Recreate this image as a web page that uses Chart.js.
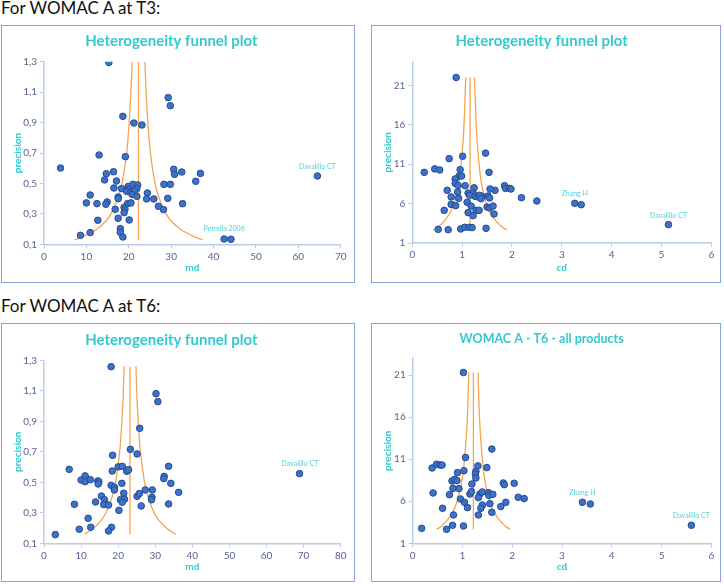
<!DOCTYPE html>
<html>
<head>
<meta charset="utf-8">
<script src="https://cdn.jsdelivr.net/npm/chart.js@4.4.1/dist/chart.umd.min.js"></script>
<style>
  body { margin: 0; background: #fff; width: 724px; height: 584px; position: relative; overflow: hidden; font-family: Lato, sans-serif; }
  .head { position: absolute; left: 1px; font-size: 17px; color: #111; white-space: nowrap; }
  .box { position: absolute; box-sizing: border-box; border: 1px solid #86A5D8; background: #fff; }
  .box canvas { display: block; }
</style>
</head>
<body>
<div class="head" style="top:-3px">For WOMAC A at T3:</div>
<div class="head" style="top:295px">For WOMAC A at T6:</div>
<div class="box" style="left:1px;top:25px;width:354px;height:258px"><canvas id="c1" width="352" height="256"></canvas></div>
<div class="box" style="left:371px;top:25px;width:350px;height:258px"><canvas id="c2" width="348" height="256"></canvas></div>
<div class="box" style="left:1px;top:323px;width:354px;height:259px"><canvas id="c3" width="352" height="257"></canvas></div>
<div class="box" style="left:371px;top:323px;width:350px;height:259px"><canvas id="c4" width="348" height="257"></canvas></div>
<script>
// ---- T3, md ----
var t3mdX = [15.3, 29.3, 29.8, 18.6, 21.2, 23.1, 13.0, 19.2, 3.9, 16.4, 14.7, 14.3, 17.1, 16.5, 18.3, 19.9, 21.0, 22.1, 19.9, 21.9, 19.5, 20.5, 21.3, 20.8, 21.9, 17.5, 17.5, 10.9, 10.0, 12.5, 14.9, 14.6, 19.7, 20.5, 16.8, 18.9, 19.1, 18.9, 17.5, 12.7, 20.1, 18.0, 18.0, 18.6, 8.6, 10.9, 24.4, 24.2, 25.9, 28.3, 29.8, 27.0, 28.2, 29.2, 30.6, 30.8, 32.5, 32.7, 35.8, 36.9, 42.5, 44.1, 64.5];
var t3mdY = [1.295, 1.064, 1.011, 0.941, 0.897, 0.884, 0.687, 0.676, 0.601, 0.577, 0.564, 0.523, 0.516, 0.470, 0.466, 0.481, 0.494, 0.490, 0.461, 0.466, 0.448, 0.442, 0.450, 0.428, 0.415, 0.411, 0.400, 0.424, 0.372, 0.367, 0.378, 0.363, 0.367, 0.372, 0.330, 0.343, 0.330, 0.308, 0.271, 0.258, 0.260, 0.203, 0.179, 0.148, 0.159, 0.177, 0.437, 0.398, 0.398, 0.494, 0.494, 0.350, 0.328, 0.402, 0.593, 0.560, 0.575, 0.367, 0.514, 0.566, 0.135, 0.133, 0.549];
var t3mdFunnelP = [0.13, 0.15, 0.2, 0.25, 0.3, 0.4, 0.5, 0.7, 0.9, 1.1, 1.3];
var t3mdFunnelLow = [7.2, 9.2, 12.5, 14.5, 15.8, 17.4, 18.4, 19.5, 20.1, 20.5, 20.8];
var t3mdFunnelHigh = [37.4, 35.4, 32.1, 30.1, 28.8, 27.2, 26.2, 25.1, 24.5, 24.1, 23.8];
var t3mdCenter = [22.3, 0.125, 1.3];
var t3mdLabels = ["Davalillo CT", "Petrella 2006"];
var t3mdLabelX = [64.5, 42.5];
var t3mdLabelY = [0.61, 0.205];

// ---- T3, cd ----
var t3cdX = [0.88, 1.47, 1.01, 0.74, 0.24, 0.45, 0.55, 0.96, 0.94, 0.99, 1.54, 0.86, 0.86, 0.92, 1.06, 1.24, 0.70, 0.91, 1.12, 1.22, 1.15, 1.26, 1.32, 1.40, 1.35, 1.52, 1.38, 1.55, 1.66, 1.56, 1.85, 1.87, 1.95, 1.98, 0.78, 0.93, 0.78, 0.87, 1.10, 1.18, 1.12, 1.28, 1.34, 1.22, 0.64, 1.50, 1.55, 1.62, 1.64, 2.19, 2.50, 3.26, 3.39, 5.14, 0.52, 0.72, 0.97, 1.05, 1.14, 1.20, 1.48];
var t3cdY = [22.0, 12.4, 12.0, 11.7, 9.96, 10.4, 10.26, 10.3, 9.5, 9.5, 9.96, 9.12, 8.57, 8.3, 8.27, 8.0, 7.68, 7.47, 7.34, 7.34, 7.05, 6.92, 6.84, 6.92, 7.05, 6.96, 6.62, 6.71, 7.68, 7.85, 8.27, 7.93, 7.93, 7.85, 6.84, 6.67, 5.9, 5.74, 6.16, 5.69, 4.85, 5.14, 5.14, 4.47, 5.14, 5.57, 5.44, 5.69, 4.68, 6.75, 6.33, 6.03, 5.86, 3.33, 2.73, 2.69, 2.78, 2.99, 2.99, 2.95, 2.86];
var t3cdFunnelP = [2.65, 3, 4, 5, 6, 8, 10, 14, 18, 22];
var t3cdFunnelLow = [0.42, 0.51, 0.67, 0.77, 0.83, 0.915, 0.964, 1.02, 1.051, 1.071];
var t3cdFunnelHigh = [1.90, 1.81, 1.65, 1.55, 1.49, 1.405, 1.356, 1.30, 1.269, 1.249];
var t3cdCenter = [1.16, 2.65, 22];
var t3cdLabels = ["Zhang H", "Davalillo CT"];
var t3cdLabelX = [3.26, 5.14];
var t3cdLabelY = [7.3, 4.5];

// ---- T6, md ----
var t6mdX = [18.1, 30.2, 30.7, 25.8, 23.3, 25.1, 18.5, 6.8, 18.4, 20.0, 21.1, 22.3, 22.8, 11.1, 10.0, 11.1, 12.5, 14.5, 14.8, 14.6, 21.0, 18.1, 19.0, 18.95, 21.5, 15.5, 16.3, 20.6, 21.7, 21.1, 13.9, 16.1, 17.4, 8.2, 20.2, 11.9, 12.6, 9.5, 18.2, 17.4, 3.05, 25.1, 25.7, 26.2, 27.3, 29.2, 29.1, 29.0, 32.4, 32.3, 33.6, 34.2, 36.3, 33.6, 68.9];
var t6mdY = [1.258, 1.081, 1.029, 0.854, 0.716, 0.686, 0.677, 0.585, 0.574, 0.601, 0.605, 0.572, 0.583, 0.542, 0.515, 0.504, 0.517, 0.509, 0.504, 0.489, 0.493, 0.480, 0.467, 0.450, 0.428, 0.410, 0.386, 0.386, 0.389, 0.369, 0.371, 0.354, 0.351, 0.356, 0.316, 0.264, 0.205, 0.192, 0.205, 0.181, 0.157, 0.408, 0.426, 0.345, 0.450, 0.450, 0.402, 0.386, 0.539, 0.524, 0.605, 0.493, 0.434, 0.358, 0.557];
var t6mdFunnelP = [0.159, 0.2, 0.25, 0.3, 0.4, 0.5, 0.7, 0.9, 1.1, 1.26];
var t6mdFunnelLow = [10.9, 13.4, 15.4, 16.7, 18.3, 19.3, 20.4, 21.0, 21.4, 21.6];
var t6mdFunnelHigh = [35.5, 33.0, 31.0, 29.7, 28.1, 27.1, 26.0, 25.4, 25.0, 24.8];
var t6mdCenter = [23.2, 0.159, 1.26];
var t6mdLabels = ["Davalillo CT"];
var t6mdLabelX = [69.0];
var t6mdLabelY = [0.62];

// ---- T6, cd ----
var t6cdX = [1.02, 1.59, 1.06, 0.39, 0.48, 0.55, 0.59, 1.03, 0.90, 1.27, 1.26, 1.27, 1.31, 1.49, 0.79, 0.84, 0.89, 0.93, 0.81, 1.19, 1.82, 1.84, 2.04, 0.41, 0.74, 1.15, 1.18, 1.35, 1.40, 1.32, 1.52, 1.53, 1.61, 2.12, 2.24, 0.96, 1.04, 1.10, 0.60, 1.40, 1.37, 1.55, 1.87, 1.77, 1.59, 1.32, 0.82, 3.41, 3.57, 5.60, 0.18, 0.68, 0.80, 1.02];
var t6cdY = [21.3, 12.2, 11.2, 9.95, 10.4, 10.3, 10.3, 9.63, 9.4, 9.55, 9.24, 8.76, 10.2, 10.0, 8.4, 8.6, 8.45, 7.5, 7.53, 8.05, 8.17, 7.97, 8.13, 6.98, 6.78, 6.86, 7.14, 6.86, 7.1, 6.43, 7.02, 6.7, 6.82, 6.47, 6.31, 6.27, 5.87, 5.24, 5.16, 5.55, 5.16, 5.71, 5.87, 5.36, 4.68, 4.37, 4.37, 5.87, 5.67, 3.14, 2.78, 2.66, 3.14, 3.06];
var t6cdFunnelP = [2.66, 3, 4, 5, 6, 8, 10, 14, 18, 21.3];
var t6cdFunnelLow = [0.48, 0.57, 0.73, 0.83, 0.89, 0.975, 1.024, 1.08, 1.111, 1.128];
var t6cdFunnelHigh = [1.96, 1.87, 1.71, 1.61, 1.55, 1.465, 1.416, 1.36, 1.329, 1.312];
var t6cdCenter = [1.22, 2.66, 21.3];
var t6cdLabels = ["Zhang H", "Davalillo CT"];
var t6cdLabelX = [3.41, 5.60];
var t6cdLabelY = [7.0, 4.3];

// tick values
var mdTicksY = [0.1, 0.3, 0.5, 0.7, 0.9, 1.1, 1.3];
var cdTicksY = [1, 6, 11, 16, 21];
var md70Ticks = [0, 10, 20, 30, 40, 50, 60, 70];
var md80Ticks = [0, 10, 20, 30, 40, 50, 60, 70, 80];
var cdTicksX = [0, 1, 2, 3, 4, 5, 6];

var TURQ = '#33C9CF';
var TICK = '#5E6096';
var AXIS = '#BACBE6';
var ORANGE = '#F5A552';

function pts(xs, ys) {
  return xs.map(function (x, i) { return { x: x, y: ys[i] }; });
}

var labelPlugin = {
  id: 'studyLabels',
  afterDatasetsDraw: function (chart) {
    var o = chart.options.plugins.studyLabels;
    if (!o) return;
    var ctx = chart.ctx;
    ctx.save();
    ctx.font = '7px Lato';
    ctx.fillStyle = '#55D2D8';
    ctx.textAlign = 'center';
    ctx.textBaseline = 'middle';
    o.text.forEach(function (t, i) {
      ctx.fillText(t, chart.scales.x.getPixelForValue(o.x[i]), chart.scales.y.getPixelForValue(o.y[i]));
    });
    ctx.restore();
  }
};

function panel(id, p) {
  var line = function (d) {
    return { data: d, showLine: true, borderColor: ORANGE, borderWidth: 1.3, pointRadius: 0, tension: 0.35, fill: false };
  };
  var tLine = p.titleSize * 1.2;
  new Chart(document.getElementById(id), {
    type: 'scatter',
    data: {
      datasets: [
        { data: pts(p.xs, p.ys), pointRadius: 3.3, pointBackgroundColor: '#3D72C6', pointBorderColor: '#234C94', pointBorderWidth: 1 },
        line(pts(p.low, p.fp)),
        line(pts(p.high, p.fp)),
        line([{ x: p.center[0], y: p.center[1] }, { x: p.center[0], y: p.center[2] }])
      ]
    },
    options: {
      responsive: false,
      animation: false,
      layout: { padding: { left: 0, right: p.padR, top: 0, bottom: 0 } },
      plugins: {
        legend: { display: false },
        tooltip: { enabled: false },
        title: { display: true, text: p.title, color: TURQ, font: { family: 'Lato', size: p.titleSize, weight: 'bold', lineHeight: 1.2 },
          padding: { top: p.titleMid - tLine / 2, bottom: p.plotTop - p.titleMid - tLine / 2 } },
        studyLabels: { text: p.lab, x: p.labX, y: p.labY }
      },
      scales: {
        x: {
          type: 'linear', min: p.xTicks[0], max: p.xTicks[p.xTicks.length - 1],
          afterBuildTicks: function (s) { s.ticks = p.xTicks.map(function (v) { return { value: v }; }); },
          afterFit: function (s) { s.height = p.h - p.plotBottom; },
          border: { display: true, color: AXIS, width: 1.5 },
          grid: { drawOnChartArea: false, color: AXIS, tickLength: 4 },
          ticks: { color: TICK, font: { family: 'Lato', size: 10 }, padding: 2, maxRotation: 0 },
          title: { display: true, text: p.xTitle, color: TURQ, font: { family: 'Lato', size: 10, weight: 'bold' }, padding: { top: 0, bottom: p.xTitleBottom } }
        },
        y: {
          type: 'linear', min: p.yMin, max: p.yMax,
          afterBuildTicks: function (s) { s.ticks = p.yTicks.map(function (v) { return { value: v }; }); },
          afterFit: function (s) { s.width = p.plotLeft; },
          border: { display: true, color: AXIS, width: 1.5 },
          grid: { drawOnChartArea: false, color: AXIS, tickLength: 4 },
          ticks: { color: TICK, font: { family: 'Lato', size: 10 }, padding: 3, callback: p.fmt },
          title: { display: true, text: 'precision', color: TURQ, font: { family: 'Lato', size: 10, weight: 'bold' }, padding: { top: 10, bottom: 0 } }
        }
      }
    },
    plugins: [labelPlugin]
  });
}

var fmtComma = function (v) { return v.toFixed(1).replace('.', ','); };
var fmtInt = function (v) { return String(v); };

panel('c1', { xs: t3mdX, ys: t3mdY, fp: t3mdFunnelP, low: t3mdFunnelLow, high: t3mdFunnelHigh, center: t3mdCenter,
  lab: t3mdLabels, labX: t3mdLabelX, labY: t3mdLabelY, title: 'Heterogeneity funnel plot', titleSize: 15, xTitle: 'md',
  xTicks: md70Ticks, yTicks: mdTicksY, yMin: 0.1, yMax: 1.3, fmt: fmtComma,
  h: 256, plotLeft: 42, padR: 13.3, plotTop: 35.7, plotBottom: 218.3, titleMid: 15.5, xTitleBottom: 8 });
panel('c2', { xs: t3cdX, ys: t3cdY, fp: t3cdFunnelP, low: t3cdFunnelLow, high: t3cdFunnelHigh, center: t3cdCenter,
  lab: t3cdLabels, labX: t3cdLabelX, labY: t3cdLabelY, title: 'Heterogeneity funnel plot', titleSize: 15, xTitle: 'cd',
  xTicks: cdTicksX, yTicks: cdTicksY, yMin: 1, yMax: 24, fmt: fmtInt,
  h: 256, plotLeft: 40.3, padR: 8.7, plotTop: 35.7, plotBottom: 217, titleMid: 15.5, xTitleBottom: 8 });
panel('c3', { xs: t6mdX, ys: t6mdY, fp: t6mdFunnelP, low: t6mdFunnelLow, high: t6mdFunnelHigh, center: t6mdCenter,
  lab: t6mdLabels, labX: t6mdLabelX, labY: t6mdLabelY, title: 'Heterogeneity funnel plot', titleSize: 15, xTitle: 'md',
  xTicks: md80Ticks, yTicks: mdTicksY, yMin: 0.1, yMax: 1.3, fmt: fmtComma,
  h: 257, plotLeft: 42, padR: 13.3, plotTop: 36.3, plotBottom: 219.3, titleMid: 16, xTitleBottom: 8 });
panel('c4', { xs: t6cdX, ys: t6cdY, fp: t6cdFunnelP, low: t6cdFunnelLow, high: t6cdFunnelHigh, center: t6cdCenter,
  lab: t6cdLabels, labX: t6cdLabelX, labY: t6cdLabelY, title: 'WOMAC A - T6 - all products', titleSize: 12.5, xTitle: 'cd',
  xTicks: cdTicksX, yTicks: cdTicksY, yMin: 1, yMax: 23, fmt: fmtInt,
  h: 257, plotLeft: 40.7, padR: 8.7, plotTop: 34.2, plotBottom: 219.3, titleMid: 15, xTitleBottom: 8 });
</script>
</body>
</html>
